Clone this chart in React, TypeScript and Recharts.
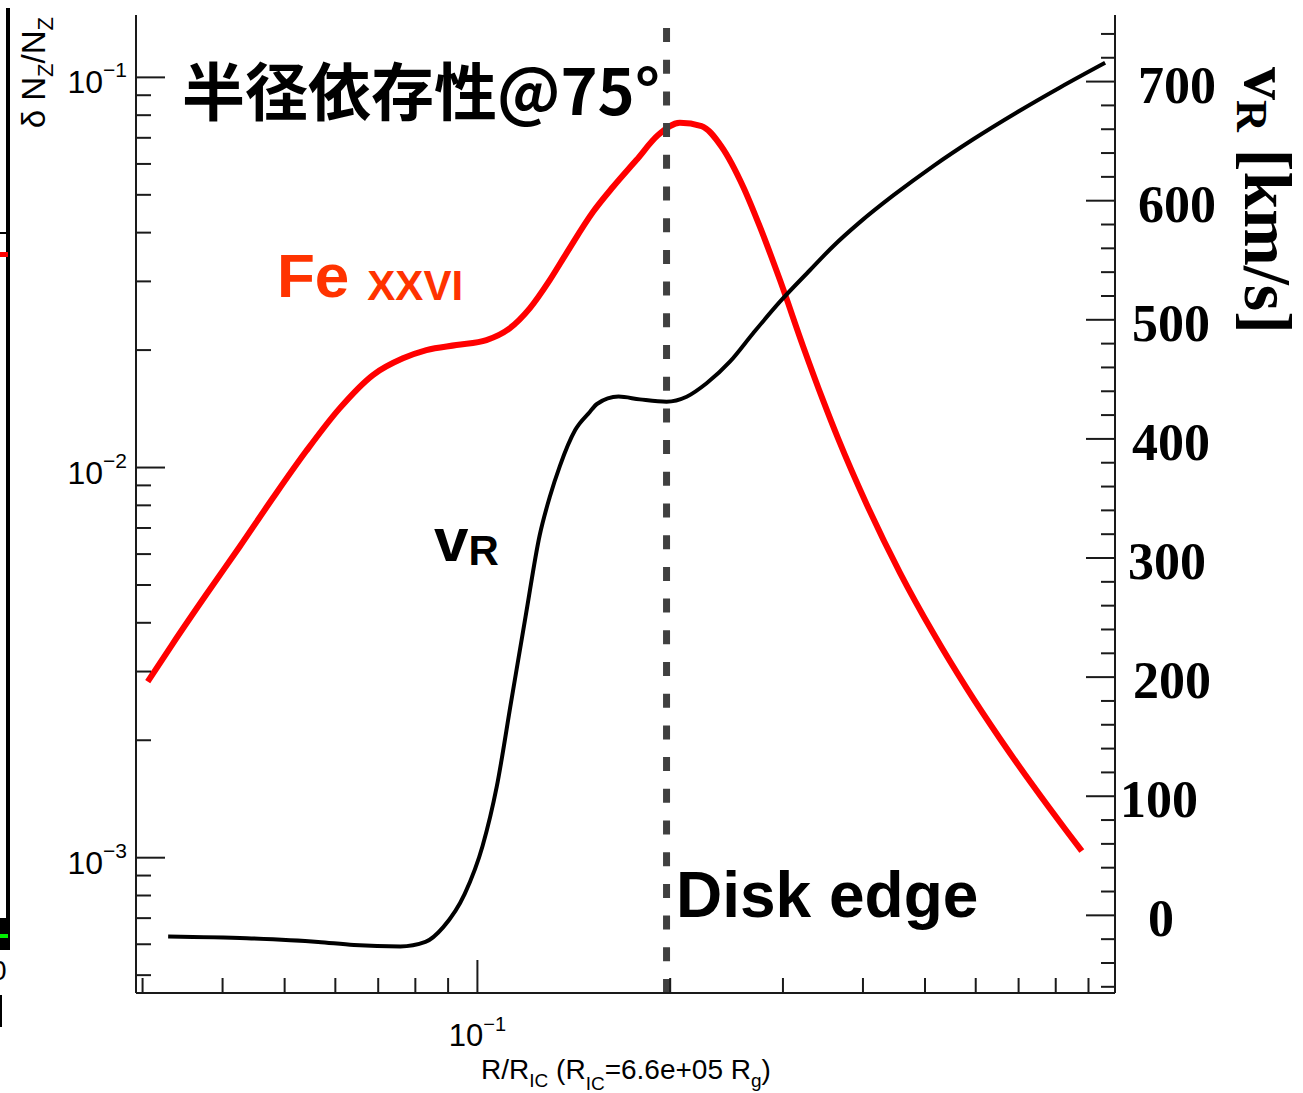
import React from "react";
import { ComposedChart, Line, XAxis, YAxis, ReferenceLine } from "recharts";

// Fe XXVI ion fraction (left log axis) against R/R_IC
const feR = [
  0.03056, 0.03345, 0.03772, 0.04253, 0.04793, 0.05403, 0.06093, 0.06868, 0.07651,
  0.08324, 0.09273, 0.1033, 0.1123, 0.1207, 0.1297, 0.1377, 0.1516, 0.1629, 0.1771,
  0.1915, 0.2071, 0.2239, 0.2406, 0.26, 0.2761, 0.2968, 0.3227, 0.3467, 0.366,
  0.4053, 0.4568, 0.515, 0.5807, 0.6548, 0.7381, 0.8323, 0.8787,
];
const feFrac = [
  0.002825, 0.003539, 0.004726, 0.006266, 0.008352, 0.01102, 0.01418, 0.01726, 0.01905,
  0.02, 0.02061, 0.02122, 0.02274, 0.02559, 0.03023, 0.0354, 0.04524, 0.05244, 0.06138,
  0.07113, 0.0765, 0.07501, 0.0664, 0.05244, 0.04142, 0.03023, 0.02041, 0.01484, 0.01184,
  0.008053, 0.005381, 0.003764, 0.002719, 0.002017, 0.001526, 0.001169, 0.00104,
];

// radial velocity v_R in km/s (right linear axis)
const vR = [
  0.03289, 0.04363, 0.05642, 0.06415, 0.0758, 0.08295, 0.08845, 0.09554, 0.1019,
  0.1072, 0.1129, 0.1189, 0.1251, 0.1297, 0.1345, 0.1422, 0.1498, 0.1537, 0.1661,
  0.1793, 0.1974, 0.2122, 0.228, 0.2479, 0.2695, 0.2968, 0.3305, 0.3594, 0.3957,
  0.446, 0.515, 0.5947, 0.6954, 0.8125, 0.9554,
];
const vKms = [
  -17.7, -19.2, -22.3, -24.9, -26.1, -22.3, -9.9, 18.0, 58.4,
  108.0, 179.4, 250.8, 319.1, 351.2, 377.2, 407.6, 422.6, 429.3, 435.5,
  433.2, 431.2, 435.4, 446.7, 464.8, 488.7, 515.2, 541.6, 561.8, 582.0,
  604.4, 629.1, 651.6, 674.1, 695.1, 715.8,
];

const diskEdge = 0.1974;

const xDomain = [0.0293, 0.99];
const xMajorTicks = [0.1];
const xMinorTicks = [0.03, 0.04, 0.05, 0.06, 0.07, 0.08, 0.09, 0.2, 0.3, 0.4, 0.5, 0.6, 0.7, 0.8, 0.9];

const leftDomain = [0.00045, 0.1445];
const leftMajorTicks = [0.001, 0.01, 0.1];
const leftMinorTicks = [
  0.0005, 0.0006, 0.0007, 0.0008, 0.0009,
  0.002, 0.003, 0.004, 0.005, 0.006, 0.007, 0.008, 0.009,
  0.02, 0.03, 0.04, 0.05, 0.06, 0.07, 0.08, 0.09,
];

const rightDomain = [-65.2, 755.9];
const rightMajorTicks = [0, 100, 200, 300, 400, 500, 600, 700];
const rightMinorTicks = [
  -60, -40, -20, 20, 40, 60, 80, 120, 140, 160, 180, 220, 240, 260, 280,
  320, 340, 360, 380, 420, 440, 460, 480, 520, 540, 560, 580, 620, 640, 660, 680, 720, 740,
];

const feData = feR.map((x, i) => ({ x, y: feFrac[i] }));
const vData = vR.map((x, i) => ({ x, v: vKms[i] }));

const SANS = "'Liberation Sans', Arial, Helvetica, sans-serif";
const SERIF = "'Liberation Serif', 'Times New Roman', serif";
const CJK = "'Noto Sans CJK JP', 'Noto Sans CJK SC', sans-serif";
const AXIS = "#1a1a1a";

const expOf = (v: number) => "\u2212" + Math.round(-Math.log10(v));

// right-axis labels were placed by hand in the original, so they wander a bit
const rightNudge: Record<number, number> = { 0: -7, 100: -9, 200: 4, 300: -1, 400: 3, 500: 3, 600: 9, 700: 9 };

function BottomTick(props: any) {
  const { x, y, payload } = props;
  const major = xMajorTicks.includes(payload.value);
  return (
    <g>
      <line x1={x} x2={x} y1={y} y2={y - (major ? 33 : 15)} stroke={AXIS} strokeWidth={2} />
      {major && (
        <text x={x} y={y + 53} textAnchor="middle" fontFamily={SANS} fontSize={31} fill="#000">
          10
          <tspan dy={-15} fontSize={20}>{expOf(payload.value)}</tspan>
        </text>
      )}
    </g>
  );
}

function LeftTick(props: any) {
  const { x, y, payload } = props;
  const major = leftMajorTicks.includes(payload.value);
  return (
    <g>
      <line x1={x} x2={x + (major ? 29 : 15)} y1={y} y2={y} stroke={AXIS} strokeWidth={2} />
      {major && (
        <text x={x - 9} y={y + 16} textAnchor="end" fontFamily={SANS} fontSize={32} fill="#000">
          10
          <tspan dy={-16} fontSize={21}>{expOf(payload.value)}</tspan>
        </text>
      )}
    </g>
  );
}

function RightTick(props: any) {
  const { x, y, payload } = props;
  const major = rightMajorTicks.includes(payload.value);
  return (
    <g>
      <line x1={x} x2={x - (major ? 29 : 14)} y1={y} y2={y} stroke={AXIS} strokeWidth={2} />
      {major && (
        <text
          x={x + 53 + (rightNudge[payload.value] || 0)}
          y={y + 21}
          textAnchor="middle"
          fontFamily={SERIF}
          fontWeight="bold"
          fontSize={52}
          fill="#000"
        >
          {payload.value}
        </text>
      )}
    </g>
  );
}

function Overlay() {
  return (
    <svg
      width={1303}
      height={1093}
      style={{ position: "absolute", left: 0, top: 0, pointerEvents: "none" }}
    >
      {/* edge of the neighbouring panel */}
      <rect x={6} y={8} width={4} height={942} fill="#000" />
      <rect x={0} y={232} width={8} height={2} fill="#000" />
      <rect x={0} y={252} width={8} height={5} fill="#ff0000" />
      <rect x={0} y={918} width={10} height={32} fill="#000" />
      <rect x={0} y={934} width={8} height={4} fill="#00ee00" />
      <text x={-9} y={980} fontFamily={SANS} fontSize={28} fill="#000">0</text>
      <rect x={0} y={995} width={2} height={32} fill="#000" />

      <text x={182} y={115} fontFamily={CJK} fontWeight="bold" fontSize={63} fill="#000">
        半径依存性@75°
      </text>

      <text x={277} y={297} fontFamily={SANS} fontWeight="bold" fontSize={62} fill="#ff3300">
        Fe
        <tspan dx={18} dy={3} fontSize={42}>XXVI</tspan>
      </text>

      <text x={434} y={561} fontFamily={SANS} fontWeight="bold" fontSize={62} fill="#000">
        v<tspan dy={4} fontSize={42}>R</tspan>
      </text>

      <text x={676} y={917} fontFamily={SANS} fontWeight="bold" fontSize={64} fill="#000">
        Disk edge
      </text>

      <text
        transform="translate(45,17) rotate(-90)"
        textAnchor="end"
        fontFamily={SANS}
        fontSize={33}
        fill="#000"
      >
        δ N<tspan dy={8} fontSize={22}>Z</tspan>
        <tspan dy={-8}>/N</tspan>
        <tspan dy={8} fontSize={22}>Z</tspan>
      </text>

      <text x={626} y={1079} textAnchor="middle" fontFamily={SANS} fontSize={28} fill="#000">
        R/R<tspan dy={8} fontSize={19}>IC</tspan>
        <tspan dy={-8}> (R</tspan>
        <tspan dy={11} fontSize={19}>IC</tspan>
        <tspan dy={-11}>=6.6e+05 R</tspan>
        <tspan dy={8} fontSize={19}>g</tspan>
        <tspan dy={-8}>)</tspan>
      </text>

      <text
        transform="translate(1245,67) rotate(90)"
        fontFamily={SERIF}
        fontWeight="bold"
        fontSize={66}
        fill="#000"
      >
        v<tspan dy={8} fontSize={44}>R</tspan>
        <tspan dy={-8} fontSize={68}> [km/s]</tspan>
      </text>
    </svg>
  );
}

export default function App() {
  return (
    <div
      style={{
        position: "absolute",
        left: 0,
        top: 0,
        width: 1303,
        height: 1093,
        background: "#fff",
        overflow: "hidden",
      }}
    >
      <ComposedChart width={1303} height={1093} margin={{ top: 15, right: 0, bottom: 0, left: 0 }}>
        <XAxis
          type="number"
          dataKey="x"
          scale="log"
          domain={xDomain}
          allowDataOverflow
          ticks={[...xMinorTicks, ...xMajorTicks]}
          interval={0}
          tickSize={0}
          tickMargin={0}
          tickLine={false}
          height={100}
          axisLine={{ stroke: AXIS, strokeWidth: 2 }}
          tick={(p: any) => <BottomTick {...p} />}
        />
        <XAxis
          xAxisId="top"
          orientation="top"
          type="number"
          scale="log"
          domain={xDomain}
          allowDataOverflow
          height={0}
          tick={false}
          tickLine={false}
          axisLine={{ stroke: AXIS, strokeWidth: 2 }}
        />
        <YAxis
          yAxisId="left"
          orientation="left"
          type="number"
          scale="log"
          domain={leftDomain}
          allowDataOverflow
          ticks={[...leftMinorTicks, ...leftMajorTicks]}
          interval={0}
          tickSize={0}
          tickMargin={0}
          tickLine={false}
          width={136}
          axisLine={{ stroke: AXIS, strokeWidth: 2 }}
          tick={(p: any) => <LeftTick {...p} />}
        />
        <YAxis
          yAxisId="right"
          orientation="right"
          type="number"
          domain={rightDomain}
          allowDataOverflow
          ticks={[...rightMinorTicks, ...rightMajorTicks]}
          interval={0}
          tickSize={0}
          tickMargin={0}
          tickLine={false}
          width={188}
          axisLine={{ stroke: AXIS, strokeWidth: 2 }}
          tick={(p: any) => <RightTick {...p} />}
        />
        <Line
          yAxisId="left"
          data={feData}
          dataKey="y"
          type="monotone"
          stroke="#ff0000"
          strokeWidth={6}
          dot={false}
          activeDot={false}
          isAnimationActive={false}
        />
        <Line
          yAxisId="right"
          data={vData}
          dataKey="v"
          type="monotone"
          stroke="#000"
          strokeWidth={4}
          dot={false}
          activeDot={false}
          isAnimationActive={false}
        />
        <ReferenceLine
          yAxisId="left"
          x={diskEdge}
          stroke="#404040"
          strokeWidth={7}
          strokeDasharray="14 17.7"
        />
      </ComposedChart>
      <Overlay />
    </div>
  );
}
